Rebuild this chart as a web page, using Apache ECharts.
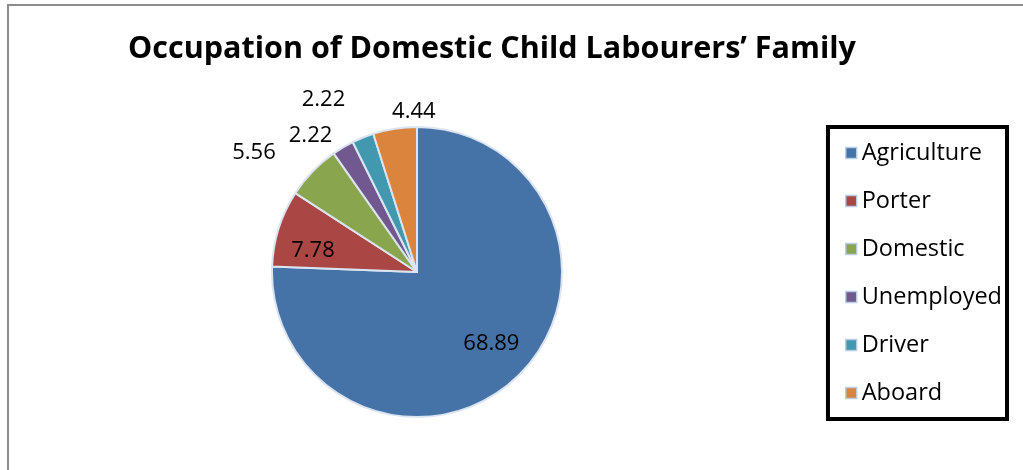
<!DOCTYPE html>
<html>
<head>
<meta charset="utf-8">
<title>Occupation of Domestic Child Labourers’ Family</title>
<script src="https://cdn.jsdelivr.net/npm/echarts@6/dist/echarts.min.js"></script>
<style>
  html, body { margin: 0; padding: 0; background: #fff; }
  #chart { width: 1023px; height: 470px; }
</style>
</head>
<body>
<div id="chart"></div>
<script>
// Share of families by occupation (percent)
const categories = ['Agriculture', 'Porter', 'Domestic', 'Unemployed', 'Driver', 'Aboard'];
const values = [68.89, 7.78, 5.56, 2.22, 2.22, 4.44];
const titleText = 'Occupation of Domestic Child Labourers’ Family';

const colors = ['#4572a7', '#aa4643', '#89a54e', '#71588f', '#4198af', '#db843d'];
// label placement per slice: inside or outside, plus a small nudge
const labelPlace = ['inside', 'inside', 'outside', 'outside', 'outside', 'outside'];
const labelNudge = [[22, 17], [-32, 2], [-21, -8], [2, 1], [-7, -24], [48, -2]];

const FONT = '"Open Sans", "Noto Sans", sans-serif';

const chart = echarts.init(document.getElementById('chart'), null, { renderer: 'canvas' });

chart.setOption({
  animation: false,
  backgroundColor: '#ffffff',
  color: colors,
  graphic: [{
    type: 'rect',
    shape: { x: 8, y: 5, width: 1100, height: 600 },
    style: { fill: 'none', stroke: '#8c8c8c', lineWidth: 2 },
    silent: true
  }],
  title: {
    text: titleText,
    left: 487,
    top: 29,
    textAlign: 'center',
    textStyle: { fontFamily: FONT, fontWeight: 'bold', fontSize: 30.5, color: '#000' }
  },
  legend: {
    orient: 'vertical',
    right: 16,
    top: 127,
    padding: [14, 5, 14, 17],
    borderColor: '#000',
    borderWidth: 4,
    itemWidth: 11,
    itemHeight: 11,
    itemGap: 24,
    icon: 'rect',
    itemStyle: { borderColor: '#b9cde5', borderWidth: 1.5 },
    textStyle: { fontFamily: FONT, fontSize: 23.5, color: '#000', lineHeight: 24 },
    data: categories
  },
  series: [{
    type: 'pie',
    center: [417, 272],
    radius: 145,
    startAngle: 90,
    clockwise: true,
    avoidLabelOverlap: false,
    itemStyle: { borderColor: '#dbe4f1', borderWidth: 2 },
    labelLine: { show: false, length: 15, length2: 0 },
    label: {
      fontFamily: FONT, fontSize: 22, color: '#000', distanceToLabelLine: 5
    },
    emphasis: { disabled: true },
    data: categories.map((name, i) => ({
      name,
      value: values[i],
      label: { position: labelPlace[i], offset: labelNudge[i], formatter: values[i].toFixed(2) }
    }))
  }]
});
</script>
</body>
</html>
